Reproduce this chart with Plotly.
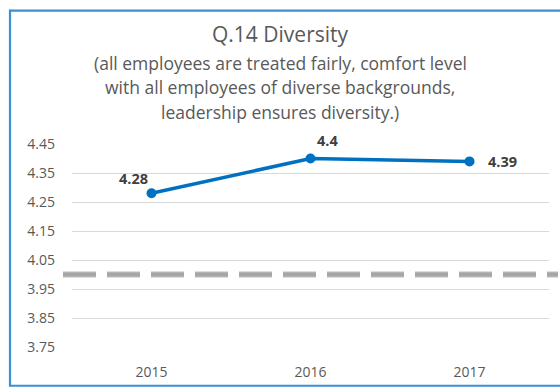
import plotly.graph_objects as go

years = ["2015", "2016", "2017"]
scores = [4.28, 4.40, 4.39]
labels = ["4.28", "4.4", "4.39"]
benchmark = 4.0
y_ticks = [3.75, 3.85, 3.95, 4.05, 4.15, 4.25, 4.35, 4.45]

title_main = "Q.14 Diversity"
subtitle_lines = [
    "(all employees are treated fairly, comfort level",
    "with all employees of diverse backgrounds,",
    "leadership ensures diversity.)",
]

L, R, T, B = 72, 11, 144, 41
W, H = 560, 392
pw, ph = W - L - R, H - T - B

def px_x(p):
    return (p - L) / pw

def px_y(p):
    return (H - B - p) / ph

fig = go.Figure()

fig.add_trace(go.Scatter(
    x=years, y=scores, mode="lines+markers",
    line=dict(color="#0070C0", width=3.5),
    marker=dict(color="#0070C0", size=10),
    hoverinfo="skip", showlegend=False,
))

font_lbl = dict(family="Open Sans, Liberation Sans, sans-serif", size=14.5, color="#404040")
offsets = [(-18, -15), (17, -18), (33, 0)]
for i, (v, t, (dx, dy)) in enumerate(zip(scores, labels, offsets)):
    fig.add_annotation(x=i, y=v, xref="x", yref="y", text="<b>%s</b>" % t, showarrow=False,
                       xanchor="center", yanchor="middle",
                       xshift=dx, yshift=-dy, font=font_lbl)

# benchmark dashed line (shadow + line)
fig.add_shape(type="line", xref="paper", yref="y",
              x0=px_x(63), x1=px_x(558), y0=benchmark, y1=benchmark,
              line=dict(color="rgba(200,200,200,0.6)", width=7, dash="33px,11px"), layer="above")
fig.add_shape(type="line", xref="paper", yref="y",
              x0=px_x(63), x1=px_x(558), y0=benchmark, y1=benchmark,
              line=dict(color="#A6A6A6", width=4.5, dash="33px,11px"), layer="above")

# outer border (left, top, bottom)
bc = dict(color="#3A8FD6", width=2.2)
fig.add_shape(type="line", xref="paper", yref="paper",
              x0=px_x(10), x1=px_x(10), y0=px_y(391), y1=px_y(7), line=bc)
fig.add_shape(type="line", xref="paper", yref="paper",
              x0=px_x(9), x1=px_x(570), y0=px_y(8), y1=px_y(8), line=bc)
fig.add_shape(type="line", xref="paper", yref="paper",
              x0=px_x(9), x1=px_x(570), y0=px_y(390.5), y1=px_y(390.5), line=bc)

fig.add_annotation(xref="paper", yref="paper", x=px_x(280), y=px_y(32),
                   xanchor="center", yanchor="middle",
                   text=title_main, showarrow=False,
                   font=dict(family="Open Sans, sans-serif", size=21, color="#595959"))
for i, line in enumerate(subtitle_lines):
    fig.add_annotation(xref="paper", yref="paper", x=px_x(280), y=px_y(61 + 25 * i),
                       xanchor="center", yanchor="middle",
                       text=line, showarrow=False,
                       font=dict(family="Open Sans, sans-serif", size=17.5, color="#595959"))

fig.update_layout(
    width=W, height=H,
    margin=dict(l=L, r=R, t=T, b=B),
    paper_bgcolor="white", plot_bgcolor="white",
    font=dict(family="Open Sans, Liberation Sans, sans-serif", color="#595959"),
    xaxis=dict(type="category", range=[-0.5, 2.5], showgrid=False, showline=False,
               zeroline=False, ticks="", tickfont=dict(size=14, color="#595959"),
               ticklabelstandoff=15),
    yaxis=dict(range=[3.75, 4.45], tickvals=y_ticks,
               ticktext=["%.2f" % v for v in y_ticks],
               showgrid=True, gridcolor="#D9D9D9", gridwidth=1,
               zeroline=False, showline=False, ticks="",
               tickfont=dict(size=14, color="#595959"), ticklabelstandoff=16),
)

fig.write_html("out.html")
